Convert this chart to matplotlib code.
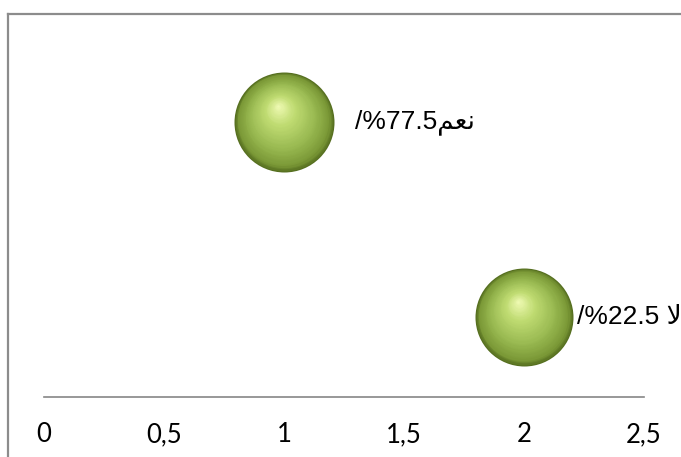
import numpy as np
import matplotlib
matplotlib.use("Agg")
import matplotlib.pyplot as plt
from matplotlib import transforms
from matplotlib.colors import LinearSegmentedColormap
from matplotlib.lines import Line2D

# 回答ごとの割合（%）と横軸上の位置
answers = ["نعم", "لا"]
x_pos = [1, 2]
percent = [77.5, 22.5]

tick_values = [0, 0.5, 1, 1.5, 2, 2.5]
tick_labels = ["0", "0,5", "1", "1,5", "2", "2,5"]

# 表示用のアラビア文字（表示形・視覚順）
shaped = {"نعم": "\ufee2\ufecc\ufee7", "لا": "\ufefb"}
label_fmt = ["/%{v}{w}", "/%{v} {w}"]

# バブル半径（px）とラベルの横オフセット（pt）
radius_px = [50, 49]
label_dx = [51, 38]

sphere_cmap = LinearSegmentedColormap.from_list(
    "sphere",
    [(0.0, "#566f20"), (0.08, "#7a9836"), (0.35, "#9aba52"),
     (0.7, "#c0dc72"), (1.0, "#f1fbb6")],
)


def draw_sphere(ax, x, y, r_px, n=45):
    """同心円を重ねて立体的な球を描く。"""
    fig = ax.figure
    focus = np.array([-0.12, 0.32]) * r_px
    for i in range(n):
        t = i / n
        r = r_px * (1 - t)
        dx, dy = focus * t
        off = transforms.offset_copy(ax.transData, fig=fig, x=dx, y=dy, units="dots")
        ax.scatter([x], [y], s=(2 * r * 72 / fig.dpi) ** 2, color=sphere_cmap(t),
                   transform=off, linewidths=0, zorder=3 + i * 0.01)


fig = plt.figure(figsize=(6.81, 4.57), dpi=100)
ax = fig.add_axes([44 / 681, 60 / 457, 600 / 681, 355 / 457])
ax.set_xlim(0, 2.5)
ax.set_ylim(0, 100)

for i, ans in enumerate(answers):
    draw_sphere(ax, x_pos[i], percent[i], radius_px[i])
    text = label_fmt[i].format(v=percent[i], w=shaped[ans])
    ax.annotate(text, (x_pos[i], percent[i]), xytext=(label_dx[i], 0),
                textcoords="offset points", ha="left", va="center",
                fontsize=19, family=["Liberation Sans", "DejaVu Sans"],
                color="black", annotation_clip=False)

ax.set_xticks(tick_values)
ax.set_xticklabels(tick_labels, family="Lato", fontsize=18.5)
ax.tick_params(axis="x", length=0, pad=18)
ax.set_yticks([])
for side in ("left", "right", "top"):
    ax.spines[side].set_visible(False)
ax.spines["bottom"].set_color("#868686")
ax.spines["bottom"].set_linewidth(1.2)
ax.patch.set_visible(False)

# 外枠（左と上）
frame_kw = dict(transform=fig.transFigure, color="#8c8c8c", lw=1.6)
fig.add_artist(Line2D([8 / 681, 8 / 681], [0, 1 - 14 / 457], **frame_kw))
fig.add_artist(Line2D([8 / 681, 1], [1 - 14 / 457, 1 - 14 / 457], **frame_kw))

fig.savefig("out.png", dpi=100)
plt.close(fig)
